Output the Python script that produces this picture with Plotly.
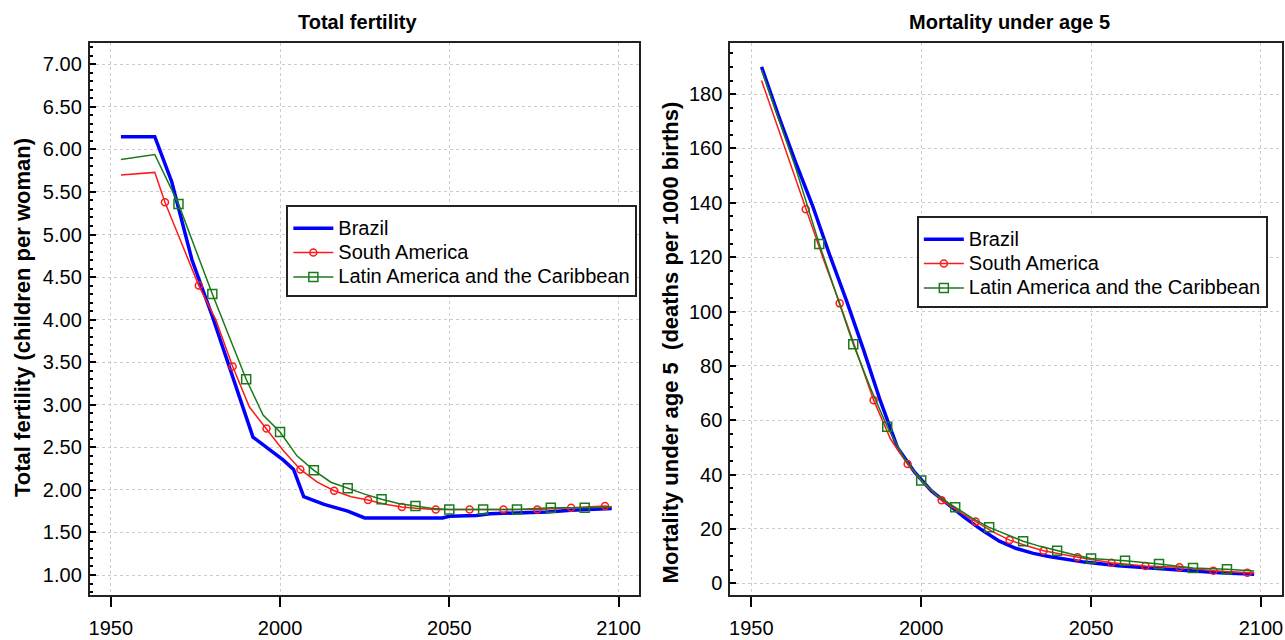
import plotly.graph_objects as go

# ---------------- Total fertility (children per woman) ----------------
tfr_brazil_years = [1953, 1963, 1968, 1974, 1980, 1985, 1990, 1992, 1997, 2001, 2004, 2007,
                    2013, 2020, 2025, 2048, 2050, 2058, 2062, 2070, 2079, 2086, 2098]
tfr_brazil = [6.15, 6.15, 5.62, 4.70, 4.04, 3.45, 2.86, 2.62, 2.47, 2.35, 2.24, 1.92,
              1.83, 1.75, 1.67, 1.67, 1.69, 1.70, 1.72, 1.73, 1.74, 1.76, 1.78]

tfr_sa_years = [1953, 1963, 1966, 1971, 1976, 1981, 1986, 1991, 1996, 2001, 2006, 2011, 2016,
                2021, 2026, 2031, 2036, 2041, 2046, 2056, 2066, 2076, 2086, 2096, 2098]
tfr_sa = [5.70, 5.73, 5.38, 4.90, 4.40, 4.00, 3.45, 2.97, 2.72, 2.46, 2.24, 2.09, 1.99,
          1.92, 1.88, 1.83, 1.80, 1.78, 1.77, 1.77, 1.77, 1.77, 1.79, 1.81, 1.80]
tfr_sa_marker_years = [1966, 1976, 1986, 1996, 2006, 2016, 2026, 2036, 2046, 2056, 2066,
                       2076, 2086, 2096]

tfr_lac_years = [1953, 1963, 1970, 1975, 1980, 1985, 1990, 1995, 2000, 2005, 2010, 2015,
                 2020, 2025, 2030, 2035, 2040, 2045, 2050, 2060, 2070, 2080, 2090, 2098]
tfr_lac = [5.88, 5.94, 5.36, 4.83, 4.30, 3.80, 3.30, 2.88, 2.68, 2.40, 2.23, 2.09,
           2.02, 1.95, 1.89, 1.84, 1.81, 1.78, 1.77, 1.77, 1.77, 1.79, 1.79, 1.80]
tfr_lac_marker_years = [1970, 1980, 1990, 2000, 2010, 2020, 2030, 2040, 2050, 2060, 2070,
                        2080, 2090]

# ---------------- Mortality under age 5 (deaths per 1000 births) ----------------
u5_brazil_years = [1953, 1958, 1963, 1968, 1973, 1978, 1983, 1988, 1993, 1998, 2003, 2008,
                   2013, 2018, 2023, 2028, 2033, 2038, 2043, 2048, 2058, 2068, 2078, 2088, 2098]
u5_brazil = [190.0, 172.0, 155.0, 139.0, 121.0, 104.0, 86.0, 67.0, 50.0, 41.0, 34.0, 29.0,
             24.0, 19.5, 15.5, 12.8, 11.0, 9.8, 8.7, 7.8, 6.5, 5.5, 4.7, 3.9, 3.3]

u5_sa_years = [1953, 1961, 1966, 1971, 1976, 1981, 1986, 1991, 1996, 2001, 2006, 2011, 2016,
               2021, 2026, 2031, 2036, 2046, 2056, 2066, 2076, 2086, 2096, 2098]
u5_sa = [185.0, 156.0, 137.6, 120.0, 103.0, 85.0, 67.4, 53.0, 43.9, 36.5, 30.6, 26.5, 22.7,
         19.0, 15.9, 13.8, 12.0, 9.6, 7.6, 6.4, 5.9, 4.6, 3.9, 3.8]
u5_sa_marker_years = [1966, 1976, 1986, 1996, 2006, 2016, 2026, 2036, 2046, 2056, 2066,
                      2076, 2086, 2096]

u5_lac_years = [1953, 1958, 1963, 1970, 1975, 1980, 1985, 1990, 1995, 2000, 2005, 2010, 2015,
                2020, 2025, 2030, 2035, 2040, 2045, 2050, 2060, 2070, 2080, 2090, 2098]
u5_lac = [189.0, 171.0, 153.0, 124.8, 106.0, 88.0, 72.0, 57.6, 46.0, 37.8, 32.0, 28.0, 24.0,
          20.6, 18.0, 15.5, 13.6, 12.0, 10.5, 9.1, 8.3, 7.1, 5.6, 5.2, 4.5]
u5_lac_marker_years = [1970, 1980, 1990, 2000, 2010, 2020, 2030, 2040, 2050, 2060, 2070,
                       2080, 2090]

series_names = ["Brazil", "South America", "Latin America and the Caribbean"]

x_tick_vals = [1950, 2000, 2050, 2100]
tfr_tick_vals = [1.0, 1.5, 2.0, 2.5, 3.0, 3.5, 4.0, 4.5, 5.0, 5.5, 6.0, 6.5, 7.0]
u5_tick_vals = [0, 20, 40, 60, 80, 100, 120, 140, 160, 180]

BLUE = "#0000ff"
RED = "#ff1a1a"
GREEN = "#1a7a1a"
FONT = "Liberation Sans, Arial, sans-serif"

fig = go.Figure()


def leg_name(s):
    return '<span style="font-size:20px">' + s + "</span>"


def subset(years, vals, marks):
    xs = [y for y in years if y in marks]
    ys = [v for y, v in zip(years, vals) if y in marks]
    return xs, ys


def add_panel(xa, ya, leg, b_y, b_v, sa_y, sa_v, sa_m, lac_y, lac_v, lac_m):
    # Brazil
    fig.add_trace(go.Scatter(x=b_y, y=b_v, mode="lines", name=leg_name(series_names[0]),
                             line=dict(color=BLUE, width=3.5), xaxis=xa, yaxis=ya,
                             legend=leg, showlegend=True))
    # South America
    fig.add_trace(go.Scatter(x=sa_y, y=sa_v, mode="lines", name=series_names[1],
                             line=dict(color=RED, width=1.5), xaxis=xa, yaxis=ya,
                             legend=leg, showlegend=False, legendgroup=leg + "sa"))
    mx, my = subset(sa_y, sa_v, sa_m)
    fig.add_trace(go.Scatter(x=mx, y=my, mode="markers", name=series_names[1],
                             marker=dict(symbol="circle-open", color=RED, size=7,
                                         line=dict(width=1.5, color=RED)),
                             xaxis=xa, yaxis=ya, legend=leg, showlegend=False,
                             legendgroup=leg + "sa"))
    # Latin America and the Caribbean
    fig.add_trace(go.Scatter(x=lac_y, y=lac_v, mode="lines", name=series_names[2],
                             line=dict(color=GREEN, width=1.5), xaxis=xa, yaxis=ya,
                             legend=leg, showlegend=False, legendgroup=leg + "lac"))
    mx, my = subset(lac_y, lac_v, lac_m)
    fig.add_trace(go.Scatter(x=mx, y=my, mode="markers", name=series_names[2],
                             marker=dict(symbol="square-open", color=GREEN, size=9,
                                         line=dict(width=1.5, color=GREEN)),
                             xaxis=xa, yaxis=ya, legend=leg, showlegend=False,
                             legendgroup=leg + "lac"))
    # legend entries
    fig.add_trace(go.Scatter(x=[None], y=[None], mode="lines+markers",
                             name=leg_name(series_names[1]),
                             line=dict(color=RED, width=1.5),
                             marker=dict(symbol="circle-open", color=RED, size=7,
                                         line=dict(width=1.5, color=RED)),
                             xaxis=xa, yaxis=ya, legend=leg, legendgroup=leg + "sa"))
    fig.add_trace(go.Scatter(x=[None], y=[None], mode="lines+markers",
                             name=leg_name(series_names[2]),
                             line=dict(color=GREEN, width=1.5),
                             marker=dict(symbol="square-open", color=GREEN, size=9,
                                         line=dict(width=1.5, color=GREEN)),
                             xaxis=xa, yaxis=ya, legend=leg, legendgroup=leg + "lac"))


add_panel("x", "y", "legend", tfr_brazil_years, tfr_brazil, tfr_sa_years, tfr_sa,
          tfr_sa_marker_years, tfr_lac_years, tfr_lac, tfr_lac_marker_years)
add_panel("x2", "y2", "legend2", u5_brazil_years, u5_brazil, u5_sa_years, u5_sa,
          u5_sa_marker_years, u5_lac_years, u5_lac, u5_lac_marker_years)

W, H = 1285, 640
y_dom = [1 - 595 / H, 1 - 43 / H]

common_x = dict(tickvals=x_tick_vals, ticks="outside", ticklen=10, tickwidth=2,
                tickcolor="black", showline=True, linecolor="#222", linewidth=2,
                mirror=True, showgrid=True, gridcolor="#cccccc", griddash="dot",
                gridwidth=1, zeroline=False, tickfont=dict(size=20, color="black"),
                ticklabelstandoff=4)
common_y = dict(ticks="inside", ticklen=6, tickwidth=2, tickcolor="black", showline=True,
                linecolor="#222", linewidth=2, mirror=True, showgrid=True,
                gridcolor="#cccccc", griddash="dot", gridwidth=1, zeroline=False,
                tickfont=dict(size=20, color="black"), ticklabelstandoff=2)

leg_common = dict(xanchor="left", yanchor="top", bgcolor="white", bordercolor="#222",
                  borderwidth=2, font=dict(size=16.5, color="black"), tracegroupgap=0,
                  itemwidth=40,
                  title=dict(text=" ", font=dict(size=3)))

fig.update_layout(
    width=W, height=H,
    margin=dict(l=0, r=0, t=0, b=0),
    paper_bgcolor="white", plot_bgcolor="white",
    font=dict(family=FONT, color="black"),
    xaxis=dict(domain=[89 / W, 639 / W], range=[1943.8, 2105.9], anchor="y", **common_x),
    yaxis=dict(domain=y_dom, range=[0.765, 7.25], anchor="x", tickvals=tfr_tick_vals,
               tickformat=".2f",
               minor=dict(dtick=0.1, ticks="inside", ticklen=3, tickcolor="black",
                          tickwidth=1.5, showgrid=False),
               **common_y),
    xaxis2=dict(domain=[731 / W, 1284 / W], range=[1943.8, 2106.2], anchor="y2", **common_x),
    yaxis2=dict(domain=y_dom, range=[-4.3, 198.8], anchor="x2", tickvals=u5_tick_vals,
                minor=dict(dtick=5, ticks="inside", ticklen=3, tickcolor="black",
                           tickwidth=1.5, showgrid=False),
                **common_y),
    legend=dict(x=286 / W, y=1 - 205 / H, **leg_common),
    legend2=dict(x=918 / W, y=1 - 216 / H, **leg_common),
    annotations=[
        dict(text="<b>Total fertility</b>", x=357 / W, y=1 - 22 / H, xref="paper",
             yref="paper", showarrow=False, font=dict(size=20), xanchor="center",
             yanchor="middle"),
        dict(text="<b>Mortality under age 5</b>", x=1011 / W, y=1 - 22 / H, xref="paper",
             yref="paper", showarrow=False, font=dict(size=20), xanchor="center",
             yanchor="middle"),
        dict(text="<b>Total fertility (children per woman)</b>", x=21 / W, y=1 - 317 / H,
             xref="paper", yref="paper", showarrow=False, textangle=-90,
             font=dict(size=22), xanchor="center", yanchor="middle"),
        dict(text="<b>Mortality under age 5  (deaths per 1000 births)</b>", x=671 / W,
             y=1 - 342 / H, xref="paper", yref="paper", showarrow=False, textangle=-90,
             font=dict(size=22), xanchor="center", yanchor="middle"),
    ],
)

fig.write_html("out.html")
